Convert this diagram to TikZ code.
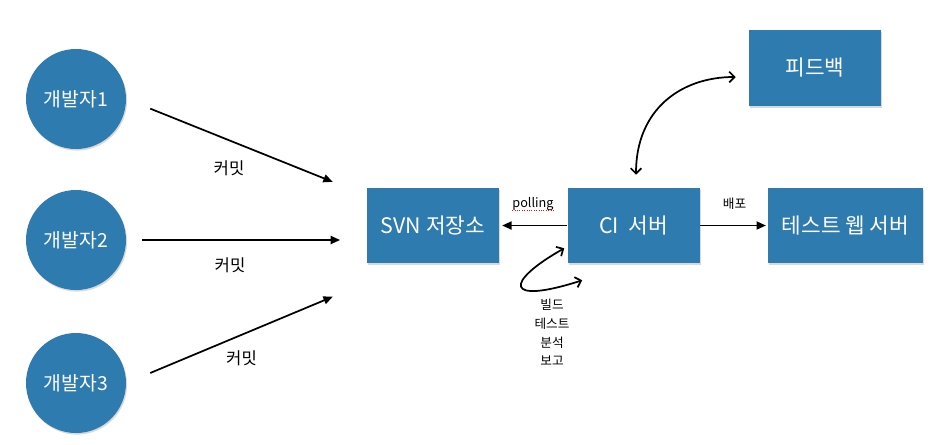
\documentclass[tikz,border=0pt]{standalone}
\usepackage{fontspec}
\setmainfont{Noto Sans CJK KR}
\usetikzlibrary{shadows,arrows.meta,calc}
\definecolor{ciblue}{RGB}{46,123,176}

\tikzset{
	basic/.style  = {fill=ciblue, text=white, drop shadow={shadow xshift=0.8pt, shadow yshift=-1.2pt, opacity=0.3}},
	dev/.style    = {basic, circle, minimum size=75pt, inner sep=0pt, font=\fontsize{14.5}{17}\selectfont},
	server/.style = {basic, rectangle, minimum width=99pt, minimum height=56.25pt, font=\fontsize{16}{19}\selectfont},
	tag/.style    = {inner sep=0pt, font=\fontsize{12.5}{15}\selectfont},
	note/.style   = {inner sep=0pt, align=center, font=\fontsize{9.5}{13.9}\selectfont},
	commit/.style = {-{Triangle[length=7pt,width=6pt]}, line width=1.3pt},
	curvy/.style  = {{Straight Barb[length=4pt,width=8pt]}-{Straight Barb[length=4pt,width=8pt]}, line width=1.3pt}
}

\begin{document}
\begin{tikzpicture}[x=0.75pt, y=-0.75pt]
\useasboundingbox (0,0) rectangle (931,444);

% developers
\node[dev] (dev1) at (76,99) {개발자1};
\node[dev] (dev2) at (76,240) {개발자2};
\node[dev] (dev3) at (76,383) {개발자3};

% servers
\node[server] (svn) at (433,225.5) {SVN 저장소};
\node[server] (ci) at (633.5,225.5) {CI\ \ 서버};
\node[server, minimum width=116pt] (web) at (845.5,225.5) {테스트 웹 서버};
\node[server, minimum height=57pt] (fb) at (815,68) {피드백};

% commits
\draw[commit, shorten <=19.4pt, shorten >=27.5pt] (dev1.east) -- ($(svn.west)+(0,-30)$);
\draw[commit, shorten <=12pt, shorten >=20pt] (dev2.east) -- (dev2.east -| svn.west);
\draw[commit, shorten <=19.5pt, shorten >=27.6pt] (dev3.east) -- ($(svn.west)+(0,57)$);
\node[tag] (c1) at (229,168) {커밋};
\node[tag] (c2) at (230,265) {커밋};
\node[tag] (c3) at (241.5,358) {커밋};

% polling and deploy
\draw[commit, shorten >=2.2pt] (ci.west) -- (svn.east);
\node[note] (poll) at (533,204) {polling};
\draw[red, densely dotted, line width=0.8pt] ($(poll.base west)+(0,3)$) -- ($(poll.base east)+(0,3)$);
\draw[commit, shorten >=1.5pt] (ci.east) -- (web.west);
\node[note] (deploy) at (734.5,204) {배포};

% feedback loop
\draw[curvy] ($(ci.north)+(2.5,-13)$) .. controls +(0,-65) and +(-55,0) .. ($(fb.west)+(-13,9)$);

% build cycle
\draw[curvy] ($(ci.south west)+(-3,-15)$) .. controls +(-60,34) and +(-78,25) .. ($(ci.south west)+(15,17)$);
\node[note] (steps) at (552,332.5) {빌드\\테스트\\분석\\보고};

\end{tikzpicture}
\end{document}
